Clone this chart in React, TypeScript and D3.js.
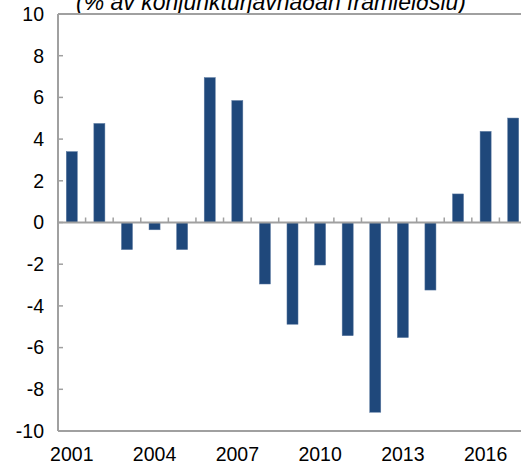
import React from "react";
import * as d3 from "d3";

const years = ["2001","2002","2003","2004","2005","2006","2007","2008","2009","2010","2011","2012","2013","2014","2015","2016","2017"];
const values = [3.4, 4.75, -1.3, -0.35, -1.3, 6.95, 5.85, -2.95, -4.88, -2.04, -5.43, -9.1, -5.52, -3.24, 1.37, 4.37, 5.01];
const yTicks = [-10, -8, -6, -4, -2, 0, 2, 4, 6, 8, 10];
const xLabels = ["2001", "2004", "2007", "2010", "2013", "2016"];
const title = "(% av konjunkturjavnaðan framleiðslu)";

export default function App() {
  const W = 521, H = 471;
  const left = 58, right = 527, top = 14, bottom = 431;
  const x = d3.scaleBand().domain(years).range([left, right]).paddingInner(0.6).paddingOuter(0.3);
  const xb = d3.scaleBand().domain(years).range([left, right]);
  const y = d3.scaleLinear().domain([-10, 10]).range([bottom, top]);
  const axisColor = "#a0a0a0";
  const font = "'Liberation Sans', Arial, sans-serif";
  return (
    <svg width={W} height={H} style={{ position: "absolute", left: 0, top: 0, background: "#fff" }}>
      <text x={271} y={10} textAnchor="middle" fontFamily={font} fontStyle="italic" fontSize={23} fill="#000">{title}</text>
      {years.map((yr, i) => {
        const v = values[i];
        return (
          <rect key={yr} x={x(yr)} width={x.bandwidth()} y={y(Math.max(0, v))} height={Math.abs(y(v) - y(0))} fill="#1f487b" stroke="#5a78a0" strokeWidth={0.5} />
        );
      })}
      <line x1={left} x2={W} y1={top} y2={top} stroke={axisColor} strokeWidth={2} />
      <line x1={left} x2={W} y1={bottom} y2={bottom} stroke={axisColor} strokeWidth={2} />
      <line x1={left} x2={left} y1={top} y2={bottom} stroke={axisColor} strokeWidth={2} />
      <line x1={left} x2={W} y1={y(0)} y2={y(0)} stroke={axisColor} strokeWidth={2} />
      {years.slice(1).map((yr) => (
        <line key={"t" + yr} x1={xb(yr)} x2={xb(yr)} y1={y(0)} y2={y(0) - 5} stroke={axisColor} strokeWidth={1.5} />
      ))}
      {yTicks.map((t) => (
        <g key={t}>
          <line x1={left} x2={left + 5} y1={y(t)} y2={y(t)} stroke={axisColor} strokeWidth={1.5} />
          <text x={44} y={y(t)} dy="0.35em" textAnchor="end" fontFamily={font} fontSize={19.5} fill="#000">{t}</text>
        </g>
      ))}
      {xLabels.map((l) => (
        <text key={l} x={(xb(l) as number) + xb.bandwidth() / 2} y={461} textAnchor="middle" fontFamily={font} fontSize={19.5} fill="#000">{l}</text>
      ))}
    </svg>
  );
}
